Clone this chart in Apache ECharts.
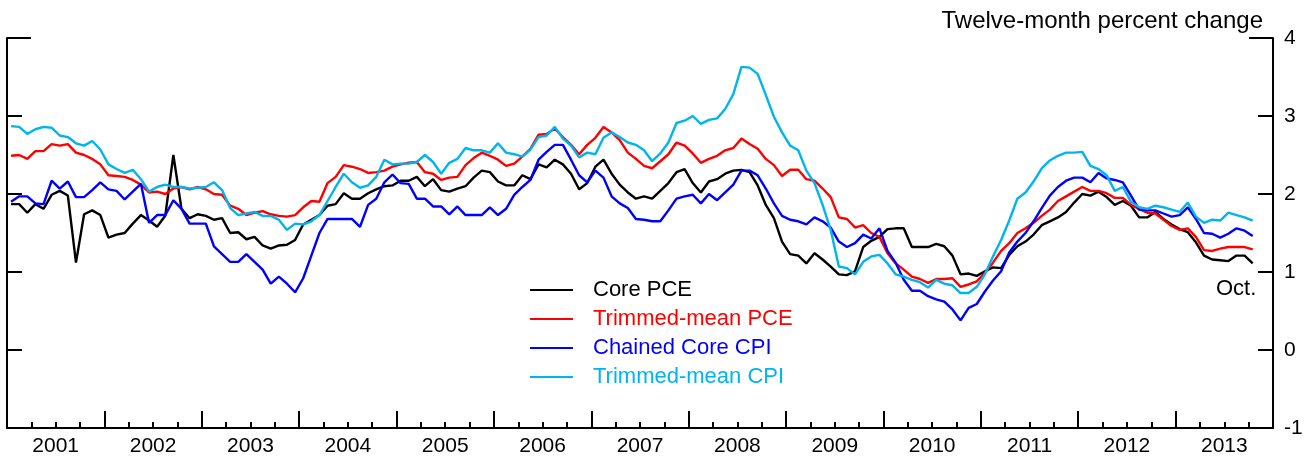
<!DOCTYPE html>
<html>
<head>
<meta charset="utf-8">
<script src="https://cdn.jsdelivr.net/npm/echarts@6/dist/echarts.min.js"></script>
<style>
html,body{margin:0;padding:0;background:#fff;}
#chart{width:1312px;height:460px;}
</style>
</head>
<body>
<div id="chart"></div>
<script>
// monthly, Jan 2001 - Oct 2013
var years = ['2001','2002','2003','2004','2005','2006','2007','2008','2009','2010','2011','2012','2013'];
var yTicks = ['-1','0','1','2','3','4'];

var corePCE = [
	1.87,1.87,1.76,1.87,1.81,1.99,2.04,1.98,1.12,1.74,1.79,1.73,
	1.44,1.48,1.50,1.62,1.73,1.66,1.58,1.72,2.50,1.81,1.69,1.74,
	1.72,1.67,1.69,1.50,1.51,1.42,1.45,1.34,1.30,1.34,1.35,1.41,
	1.61,1.67,1.73,1.85,1.87,2.01,1.94,1.94,2.01,2.06,2.10,2.11,
	2.17,2.17,2.22,2.10,2.19,2.05,2.03,2.07,2.10,2.21,2.30,2.28,
	2.16,2.11,2.11,2.24,2.19,2.38,2.34,2.44,2.38,2.26,2.06,2.14,
	2.35,2.44,2.26,2.12,2.02,1.94,1.97,1.94,2.04,2.14,2.28,2.32,
	2.14,2.02,2.16,2.19,2.26,2.30,2.31,2.28,2.11,1.86,1.69,1.39,
	1.23,1.21,1.11,1.24,1.16,1.07,0.97,0.96,1.01,1.32,1.40,1.45,
	1.55,1.56,1.56,1.32,1.32,1.32,1.36,1.33,1.21,0.97,0.98,0.95,
	1.01,1.06,1.05,1.22,1.33,1.39,1.48,1.60,1.65,1.70,1.77,1.89,
	2.00,1.98,2.03,1.96,1.86,1.91,1.85,1.70,1.70,1.77,1.68,1.61,
	1.55,1.51,1.38,1.21,1.16,1.15,1.14,1.21,1.21,1.11
];
var trimPCE = [
	2.49,2.50,2.45,2.55,2.55,2.64,2.62,2.64,2.53,2.50,2.45,2.38,
	2.24,2.23,2.22,2.18,2.12,2.02,2.03,2.00,2.07,2.09,2.06,2.09,
	2.06,2.00,1.99,1.85,1.81,1.73,1.76,1.78,1.74,1.72,1.71,1.73,
	1.83,1.91,1.90,2.14,2.22,2.37,2.35,2.32,2.27,2.28,2.30,2.35,
	2.38,2.40,2.41,2.28,2.26,2.18,2.21,2.22,2.37,2.46,2.53,2.49,
	2.44,2.36,2.39,2.48,2.58,2.76,2.77,2.84,2.73,2.63,2.51,2.63,
	2.72,2.86,2.79,2.69,2.53,2.45,2.36,2.33,2.42,2.51,2.66,2.62,
	2.52,2.40,2.45,2.49,2.56,2.59,2.71,2.64,2.58,2.45,2.37,2.23,
	2.31,2.31,2.19,2.17,2.07,1.96,1.70,1.68,1.57,1.60,1.50,1.45,
	1.24,1.11,1.03,0.94,0.91,0.86,0.91,0.91,0.92,0.81,0.84,0.88,
	0.99,1.12,1.27,1.37,1.50,1.56,1.63,1.72,1.80,1.91,1.97,2.03,
	2.09,2.04,2.04,2.01,1.95,1.95,1.86,1.81,1.76,1.75,1.67,1.59,
	1.54,1.56,1.45,1.28,1.27,1.30,1.32,1.32,1.32,1.29
];
var chainedCPI = [
	1.90,1.97,1.97,1.88,1.87,2.17,2.07,2.16,1.96,1.96,2.05,2.15,
	2.06,2.04,1.93,2.03,2.13,1.63,1.73,1.73,1.92,1.81,1.62,1.62,
	1.62,1.33,1.23,1.13,1.13,1.23,1.13,1.03,0.85,0.94,0.85,0.74,
	0.92,1.21,1.50,1.68,1.68,1.68,1.68,1.58,1.86,1.94,2.15,2.25,
	2.14,2.13,1.94,1.94,1.84,1.84,1.74,1.84,1.73,1.73,1.73,1.83,
	1.73,1.81,1.99,2.09,2.18,2.44,2.54,2.63,2.63,2.44,2.24,2.15,
	2.30,2.21,1.97,1.88,1.82,1.68,1.67,1.65,1.65,1.79,1.94,1.97,
	1.99,1.88,2.00,1.92,2.02,2.12,2.30,2.30,2.24,2.07,1.88,1.72,
	1.67,1.65,1.61,1.70,1.65,1.57,1.39,1.32,1.37,1.48,1.43,1.56,
	1.27,1.12,0.90,0.76,0.76,0.69,0.65,0.62,0.52,0.38,0.54,0.59,
	0.75,0.89,1.01,1.25,1.39,1.50,1.65,1.82,1.98,2.09,2.17,2.21,
	2.21,2.15,2.27,2.20,2.18,2.15,1.98,1.80,1.79,1.79,1.75,1.71,
	1.73,1.83,1.68,1.50,1.49,1.44,1.49,1.56,1.53,1.46
];
var trimCPI = [
	2.87,2.86,2.77,2.83,2.86,2.85,2.75,2.73,2.65,2.62,2.68,2.57,
	2.38,2.32,2.27,2.31,2.19,2.03,2.09,2.12,2.09,2.09,2.07,2.08,
	2.09,2.15,2.05,1.82,1.73,1.75,1.77,1.72,1.72,1.67,1.54,1.62,
	1.61,1.65,1.73,1.91,2.09,2.26,2.15,2.08,2.11,2.22,2.44,2.38,
	2.39,2.39,2.41,2.50,2.41,2.26,2.40,2.45,2.59,2.56,2.56,2.53,
	2.65,2.53,2.51,2.48,2.57,2.73,2.75,2.86,2.71,2.62,2.47,2.53,
	2.51,2.72,2.79,2.73,2.66,2.63,2.56,2.42,2.52,2.66,2.91,2.94,
	3.00,2.90,2.95,2.97,3.09,3.28,3.63,3.62,3.54,3.27,2.99,2.79,
	2.62,2.56,2.30,2.14,1.86,1.54,1.07,1.05,0.97,1.13,1.20,1.22,
	1.11,0.97,0.94,0.90,0.87,0.80,0.90,0.85,0.83,0.73,0.73,0.81,
	0.97,1.20,1.41,1.66,1.94,2.02,2.16,2.33,2.43,2.49,2.53,2.53,
	2.54,2.36,2.32,2.24,2.04,2.09,1.90,1.83,1.81,1.85,1.83,1.80,
	1.77,1.89,1.71,1.63,1.67,1.66,1.76,1.73,1.70,1.66
];

var names = ['Core PCE','Trimmed-mean PCE','Chained Core CPI','Trimmed-mean CPI'];
var colors = ['#000000','#ff0000','#0000ff','#00b4f0'];

// put each month in the middle of its slot
function toPts(arr) {
	var out = [];
	for (var i = 0; i < arr.length; i++) {
		out.push([i + 0.5, arr[i]]);
	}
	return out;
}

var FONT = 'Liberation Sans, Arial, sans-serif';
var chart = echarts.init(document.getElementById('chart'));

var allData = [corePCE, trimPCE, chainedCPI, trimCPI];
var series = [];
for (var k = 0; k < allData.length; k++) {
	series.push({
		name: names[k],
		type: 'line',
		xAxisIndex: 0,
		yAxisIndex: 0,
		data: toPts(allData[k]),
		showSymbol: false,
		symbol: 'none',
		lineStyle: { color: colors[k], width: 2.4 },
		itemStyle: { color: colors[k] },
		silent: true
	});
}

var legendData = [];
for (var j = 0; j < names.length; j++) {
	legendData.push({ name: names[j], textStyle: { color: colors[j] } });
}

// y axis builder: side, tick length, interval, labels or not
function yAxisOf(side, tickLen, step, withLabels, withLine) {
	return {
		type: 'value', min: -1, max: 4, interval: step,
		position: side,
		axisLine: { show: withLine, onZero: false, lineStyle: { color: '#000', width: 2 } },
		axisTick: { show: true, inside: true, length: tickLen, lineStyle: { color: '#000', width: 2 } },
		axisLabel: withLabels ? {
			show: true, fontFamily: FONT, fontSize: 21, color: '#000', margin: 11,
			formatter: function (v) { return yTicks[v + 1]; }
		} : { show: false },
		splitLine: { show: false }
	};
}

var option = {
	animation: false,
	color: colors,
	title: {
		text: 'Twelve-month percent change',
		right: 44, top: 4,
		textStyle: { fontFamily: FONT, fontSize: 24, fontWeight: 'normal', color: '#000' }
	},
	legend: {
		orient: 'vertical',
		left: 530, top: 279,
		padding: 0,
		icon: 'rect',
		itemWidth: 43, itemHeight: 2,
		itemGap: 7,
		data: legendData,
		textStyle: { fontFamily: FONT, fontSize: 22, lineHeight: 22, padding: [0, 0, 0, 15] }
	},
	grid: { left: 7, right: 39, top: 38, bottom: 32, containLabel: false },
	xAxis: [{
		type: 'value', min: 0, max: 156, interval: 12,
		position: 'bottom',
		axisLine: { show: true, onZero: false, lineStyle: { color: '#000', width: 2 } },
		axisTick: { show: true, inside: true, length: 17, lineStyle: { color: '#000', width: 2 } },
		minorTick: { show: true, splitNumber: 4, length: 6, lineStyle: { color: '#000', width: 2 } },
		axisLabel: { show: false },
		splitLine: { show: false }
	}, {
		type: 'category', data: years,
		position: 'bottom', boundaryGap: true,
		axisLine: { show: false, onZero: false }, axisTick: { show: false },
		axisLabel: { fontFamily: FONT, fontSize: 21, color: '#000', margin: 8 },
		splitLine: { show: false }
	}],
	yAxis: [
		yAxisOf('right', 15, 1, true, true),
		yAxisOf('left', 15, 1, false, true),
		// longer tick at the top on both sides
		yAxisOf('right', 24, 5, false, false),
		yAxisOf('left', 24, 5, false, false)
	],
	graphic: [{
		type: 'text', left: 1216, top: 278,
		style: { text: 'Oct.', fontFamily: FONT, fontSize: 22, fill: '#000' }
	}],
	series: series
};
chart.setOption(option);
</script>
</body>
</html>
